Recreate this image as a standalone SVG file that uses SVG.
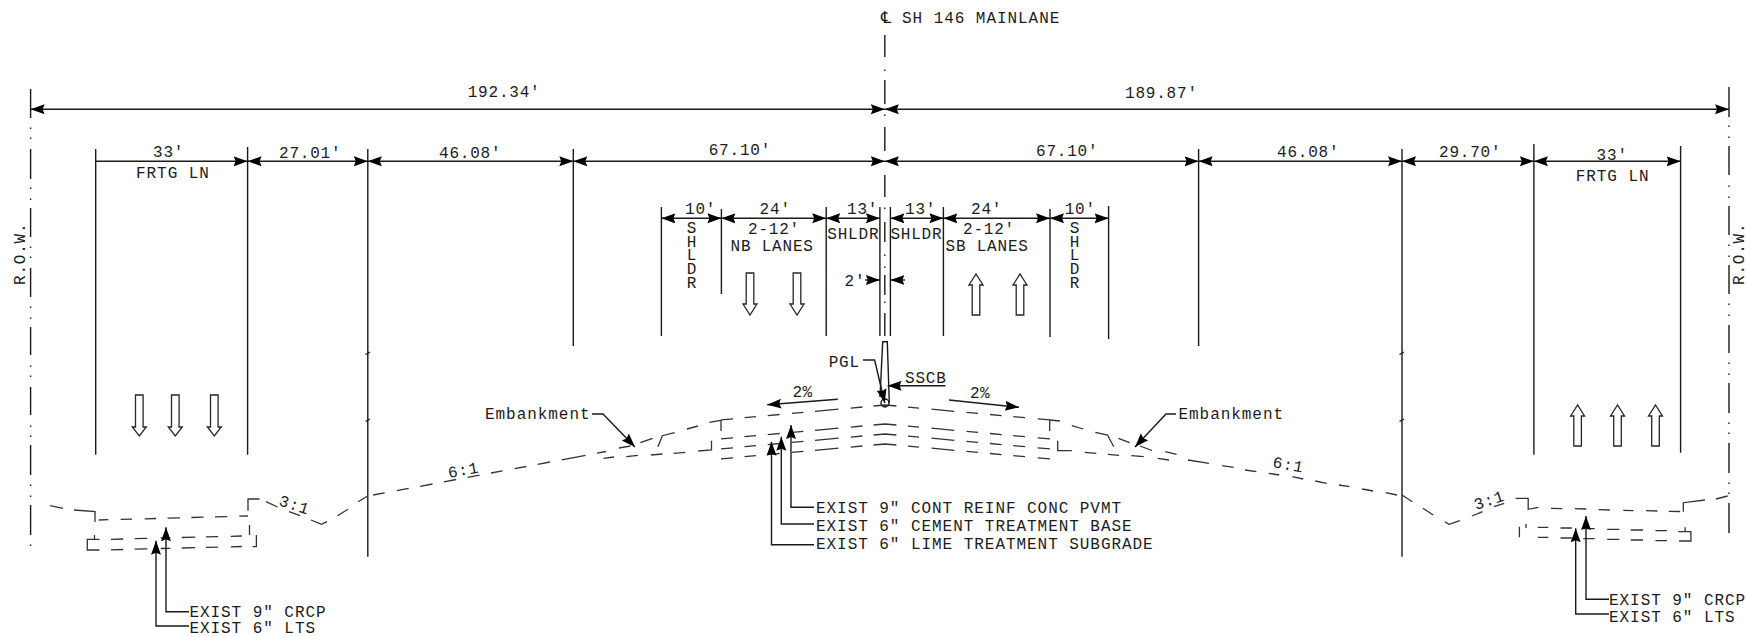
<svg xmlns="http://www.w3.org/2000/svg" xmlns:xlink="http://www.w3.org/1999/xlink" width="1746" height="637" viewBox="0 0 1746 637">
<style>
.t{font-family:"Liberation Mono","DejaVu Sans Mono",monospace;font-size:16px;letter-spacing:.8px;fill:#1c1c1c}
.w{letter-spacing:.95px}
.n{letter-spacing:.4px}
.s{fill:none;stroke:#1a1a1a;stroke-width:1.4}
.h{fill:none;stroke:#262626;stroke-width:1.3}
.g{fill:none;stroke:#333;stroke-width:1.3}
.d{marker-start:url(#a);marker-end:url(#a)}
.e{marker-end:url(#a)}
</style>
<defs>
<marker id="a" markerUnits="userSpaceOnUse" markerWidth="16" markerHeight="12" refX="14" refY="5.5" orient="auto-start-reverse"><path d="M0,.5L14,5.5L0,10.5L2,5.5Z" fill="#000"/></marker>
<path id="crown" d="M721,419.8L733,418.8M744.5,417.7L756,416.7M767.7,415.6L779.6,414.5M792,413.4L803.4,412.4M815,411.3L838.5,409.2M850.8,408.1L862.4,407M873.6,406L885,405L896.4,406M908,407.1L919,408.1M931.5,409.2L954.3,411.3M966.5,412.4L978,413.4M990,414.5L1001.6,415.6M1013.2,416.6L1025,417.7M1037.7,418.8L1050,419.9"/>
</defs>
<rect width="1746" height="637" fill="#fff"/>
<g id="centerlines" class="s">
<path d="M884.8,35V57M884.8,69.5V71M884.8,80V104M884.8,114.5V116M884.8,127V151M884.8,175V197M884.8,207.5V209M884.8,222V242M884.8,254.5V256M884.8,266.5V268M884.8,275V295M884.8,301.5V303M884.8,313V336"/>
<path id="row-left" d="M30.6,89V118M30.6,127.5V129M30.6,137.5V139M30.6,149V179M30.6,187.5V189M30.6,198.5V200M30.6,208V237M30.6,246.5V248M30.6,256.5V258M30.6,268V297M30.6,306.5V308M30.6,317.5V319M30.6,327V355M30.6,365.5V367M30.6,375.5V377M30.6,387V415M30.6,425.5V427M30.6,435.5V437M30.6,445V475M30.6,484.5V486M30.6,495.5V497M30.6,505V535M30.6,544.5V546"/>
<path id="row-right" d="M1729,87V117M1729,125.5V127M1729,136.5V138M1729,146V175M1729,185.5V187M1729,196.5V198M1729,206V235M1729,244.5V246M1729,255.5V257M1729,265V294M1729,303.5V305M1729,314.5V316M1729,325V353M1729,362.5V364M1729,373.5V375M1729,383V413M1729,422.5V424M1729,432.5V434M1729,443V473M1729,482.5V484M1729,492.5V494M1729,503V533"/>
</g>
<g id="extension-lines" class="s">
<path d="M95.7,149V454.7M247.6,147V454.7M367.8,149V556.7M573.3,149V346M1198.6,149V346M1402,149V556.7M1533.9,144V454.7M1680.6,146V452.7"/>
<path d="M661.4,207V336M721.4,209V294M826.2,207V336M879.9,207V336M890.4,207V336M943.4,207V336M1050,209V337M1108.6,206V339"/>
<path d="M365.5,354.5L370,352M365.5,421.5L370,419M1399.5,354.5L1404,352M1399.5,421.5L1404,419"/>
</g>
<g id="dimensions" class="s">
<line class="d" x1="30.6" y1="109.3" x2="884.8" y2="109.3"/>
<line class="d" x1="884.8" y1="109.3" x2="1729" y2="109.3"/>
<line class="e" x1="95.7" y1="161.3" x2="247.6" y2="161.3"/>
<line class="d" x1="247.6" y1="161.3" x2="367.8" y2="161.3"/>
<line class="d" x1="367.8" y1="161.3" x2="573.3" y2="161.3"/>
<line class="d" x1="573.3" y1="161.3" x2="884.8" y2="161.3"/>
<line class="d" x1="884.8" y1="161.3" x2="1198.6" y2="161.3"/>
<line class="d" x1="1198.6" y1="161.3" x2="1402" y2="161.3"/>
<line class="d" x1="1402" y1="161.3" x2="1533.9" y2="161.3"/>
<line class="d" x1="1533.9" y1="161.3" x2="1680.6" y2="161.3"/>
<line class="d" x1="661.4" y1="218.3" x2="721.4" y2="218.3"/>
<line class="d" x1="721.4" y1="218.3" x2="826.2" y2="218.3"/>
<line class="d" x1="826.2" y1="218.3" x2="879.9" y2="218.3"/>
<line class="d" x1="890.4" y1="218.3" x2="943.4" y2="218.3"/>
<line class="d" x1="943.4" y1="218.3" x2="1050" y2="218.3"/>
<line class="d" x1="1050" y1="218.3" x2="1108.6" y2="218.3"/>
<line class="e" x1="865" y1="280" x2="879.9" y2="280"/>
<line class="e" x1="905" y1="280" x2="890.4" y2="280"/>
</g>
<g id="traffic-arrows" class="h">
<path d="M135.5,395H143.1V427L146.3,427L139.3,436L132.3,427L135.5,427Z"/>
<path d="M171.5,395H179.1V427L182.3,427L175.3,436L168.3,427L171.5,427Z"/>
<path d="M210.5,395H218.1V427L221.3,427L214.3,436L207.3,427L210.5,427Z"/>
<path d="M746.2,273H753.8V304L757,304L750,315L743,304L746.2,304Z"/>
<path d="M793.2,273H800.8V304L804,304L797,315L790,304L793.2,304Z"/>
<path d="M972.2,315H979.8V285L983,285L976,274L969,285L972.2,285Z"/>
<path d="M1016.2,315H1023.8V285L1027,285L1020,274L1013,285L1016.2,285Z"/>
<path d="M1573.8,446H1581.4V416L1584.6,416L1577.6,405L1570.6,416L1573.8,416Z"/>
<path d="M1613.7,446H1621.3V416L1624.5,416L1617.5,405L1610.5,416L1613.7,416Z"/>
<path d="M1651.7,446H1659.3V416L1662.5,416L1655.5,405L1648.5,416L1651.7,416Z"/>
</g>
<g id="ground" class="g">
<path id="left-frontage" d="M50,505.7L63,508.3M74,510L95,511.7V522M98.7,520L108.3,519.7M120.6,519.4L132,519.1M144.7,518.8L156.1,518.5M167.6,518.2L179.9,517.8M191.4,517.5L203.6,517.2M215,516.9L227.3,516.6M239.2,516.2L248,516M248,510.7V499H259.5M266,501.7L277.5,507M289,511.7L300,515.7M311,520L321.5,524.3L327,521.7M337.5,515.7L348,509.3M358,501.7L367.8,496"/>
<path id="left-sub" d="M111,539.3L123.2,539M134.7,538.7L147.3,538.4M160.7,538L170.3,537.8M181.8,537.5L195.2,537.2M205.9,536.9L218.1,536.6M230.8,536.3L241.9,536M111,549.8L123.2,549.5M134.7,549.2L147.3,548.9M160.7,548.5L170.3,548.3M181.8,548L195.2,547.7M205.9,547.4L218.1,547.1M230.8,546.8L241.9,546.5M94.5,535V539.3M99.5,539.3H87.3V550H99.5M249.5,525V535M256.4,535V546.7H252.6"/>
<path id="left-slope" d="M373.1,495L384.6,492.9M396.9,490.6L408.7,488.4M420.2,486.3L432.5,484M443.9,481.8L456.2,479.5M467.7,477.4L479.5,475.2M491,473L502.5,470.9M514.7,468.6L526.2,466.5M537.7,464.3L549.9,462M561.8,459.8L585.5,455.4M597,453.2L606,451.5M619,448L630.4,446M640.3,442.7L652.6,438.3M657.9,446.7L662.4,435.7L674.7,432.7M687,429L698,426M709.4,422.3L721,420.3M603.5,458.3L614,457M626.3,456.7L637.9,455.3M650.9,455L662.4,454M673.7,453.3L685.2,452.3M698.2,451L711.5,450V440.7"/>
<path id="right-slope" d="M1050,420L1060,421M1071.8,425.7L1083.3,429M1095.3,432.3L1107.5,435L1113.8,446.7M1118.4,438.3L1129.6,442.7M1140,446L1152,450.5M1165.2,451.7L1176.6,454.3M1057.7,440.7V450.7H1071.8M1084.7,452.3L1096.3,453.3M1107.9,454.3L1119.1,455.3M1131.4,455.7L1143.7,456.7M1157.6,458.3L1169,460M1188,460L1208.9,463.3M1222.2,465.7L1233.6,467.3M1245,470L1256.4,471.7M1268.6,473.3L1279.2,475M1292.5,476.7L1303.2,479M1315.3,481L1326.7,483.3M1338.9,485L1349.5,486.7M1362.1,489L1373.1,491M1385.7,492.7L1397,495"/>
<path id="right-frontage" d="M1402,495L1412.3,501.7M1422.9,508.3L1433.2,515M1444.6,521.7L1449.1,524.3L1459.8,520.7M1471.9,516L1482.6,511.7M1494,506.7L1504.2,503.3M1515.6,498.3H1528.2V509.3L1538.4,507.3M1551,508.3L1562.4,508.7M1574.9,508.7L1586.3,509M1598.5,509.7L1609.9,510M1623.2,510.3L1633.5,510.6M1646,510.7L1657.4,511M1668.8,511.3L1680.2,511.5M1683.3,511.7V502.7L1705,500M1716,499L1727.7,496"/>
<path id="right-sub" d="M1537.7,527.3L1548.3,527.3M1560.5,528L1571.9,528M1583.3,528.7L1594.7,528.7M1607.2,529.3L1619.4,529.3M1630.8,530L1643,530M1655.5,530.7L1666.9,530.7M1537.7,537.3L1548.3,537.3M1560.5,538L1571.9,538M1583.3,538.7L1594.7,538.7M1607.2,539.3L1619.4,539.3M1630.8,540L1643,540M1655.5,540.7L1666.9,540.7M1519.4,526.7V537.3M1526,524V528M1678.3,531.7H1690.9V541H1679M1685.2,527.3V531.7"/>
<use href="#crown"/>
<use href="#crown" y="19"/>
<use href="#crown" y="29"/>
<use href="#crown" y="39"/>
<path d="M721,420V431M1049.7,420V431"/>
</g>
<g id="barrier" class="s">
<path d="M880,397L882.7,341.7H887.3L889.3,403"/>
<circle cx="885" cy="403" r="4"/>
</g>
<g id="leaders" class="s">
<path class="e" d="M863,360H874.6L884.8,403"/>
<path class="e" d="M945.5,385.7H887.6"/>
<path class="e" d="M837.8,399.3L767.3,404.7"/>
<path class="e" d="M949,400L1019,407.3"/>
<path class="e" d="M592,414H603L635,447"/>
<path class="e" d="M1176,414H1166L1135,447"/>
<path class="e" d="M814,507.3H791V425"/>
<path class="e" d="M814,524H781.3V436.7"/>
<path class="e" d="M814,544.7H771.5V441.7"/>
<path class="e" d="M189,611.7H166V527.3"/>
<path class="e" d="M189,626H156V540.7"/>
<path class="e" d="M1609,599.3H1586V516"/>
<path class="e" d="M1609,614H1575.7V528.3"/>
</g>
<g id="labels">
<text class="t w" x="881" y="23.3"><tspan style="font-family:'DejaVu Sans',sans-serif">℄ </tspan><tspan x="902">SH 146 MAINLANE</tspan></text>
<text class="t" x="467.7" y="96.7">192.34'</text>
<text class="t" x="1125" y="98">189.87'</text>
<text class="t" x="153" y="157">33'</text>
<text class="t w" x="136" y="178">FRTG LN</text>
<text class="t" x="279" y="157.7">27.01'</text>
<text class="t" x="439" y="157.7">46.08'</text>
<text class="t" x="708.7" y="154.7">67.10'</text>
<text class="t" x="1036" y="155.7">67.10'</text>
<text class="t" x="1277" y="157.3">46.08'</text>
<text class="t" x="1439" y="157.3">29.70'</text>
<text class="t" x="1596.6" y="160">33'</text>
<text class="t w" x="1575.7" y="181">FRTG LN</text>
<text class="t" x="685" y="214">10'</text>
<text class="t" x="759.6" y="214">24'</text>
<text class="t" x="847" y="214">13'</text>
<text class="t" x="905" y="214">13'</text>
<text class="t" x="971" y="214">24'</text>
<text class="t" x="1064.7" y="214">10'</text>
<text class="t" x="748" y="234">2-12'</text>
<text class="t" x="963" y="234">2-12'</text>
<text class="t" x="730.5" y="250.7">NB LANES</text>
<text class="t" x="945.5" y="250.7">SB LANES</text>
<text class="t" x="827.3" y="239">SHLDR</text>
<text class="t" x="890.4" y="239">SHLDR</text>
<text class="t" text-anchor="middle" y="233"><tspan x="692">S</tspan><tspan x="692" dy="13.7">H</tspan><tspan x="692" dy="13.7">L</tspan><tspan x="692" dy="13.7">D</tspan><tspan x="692" dy="13.7">R</tspan></text>
<text class="t" text-anchor="middle" y="233"><tspan x="1075">S</tspan><tspan x="1075" dy="13.7">H</tspan><tspan x="1075" dy="13.7">L</tspan><tspan x="1075" dy="13.7">D</tspan><tspan x="1075" dy="13.7">R</tspan></text>
<text class="t" x="844.5" y="286">2'</text>
<text class="t" x="25" y="285" transform="rotate(-90 25 285)">R.O.W.</text>
<text class="t" x="1743.7" y="285" transform="rotate(-90 1743.7 285)">R.O.W.</text>
<text class="t w" x="485" y="419">Embankment</text>
<text class="t w" x="1178.5" y="419">Embankment</text>
<text class="t" x="828.7" y="367.3">PGL</text>
<text class="t" x="905" y="382.7">SSCB</text>
<text class="t n" x="792.5" y="397.3">2%</text>
<text class="t n" x="970" y="398.3">2%</text>
<text class="t" x="449" y="478" transform="rotate(-10.6 449 478)">6:1</text>
<text class="t" x="1272" y="467" transform="rotate(10.6 1272 467)">6:1</text>
<text class="t" x="278" y="505" transform="rotate(18 278 505)">3:1</text>
<text class="t" x="1476" y="510" transform="rotate(-18 1476 510)">3:1</text>
<text class="t w" x="816" y="513">EXIST 9" CONT REINF CONC PVMT</text>
<text class="t w" x="816" y="530.5">EXIST 6" CEMENT TREATMENT BASE</text>
<text class="t w" x="816" y="548.5">EXIST 6" LIME TREATMENT SUBGRADE</text>
<text class="t w" x="189.4" y="616.7">EXIST 9" CRCP</text>
<text class="t w" x="189.4" y="633.3">EXIST 6" LTS</text>
<text class="t w" x="1609" y="605">EXIST 9" CRCP</text>
<text class="t w" x="1609" y="621.7">EXIST 6" LTS</text>
</g>
</svg>
